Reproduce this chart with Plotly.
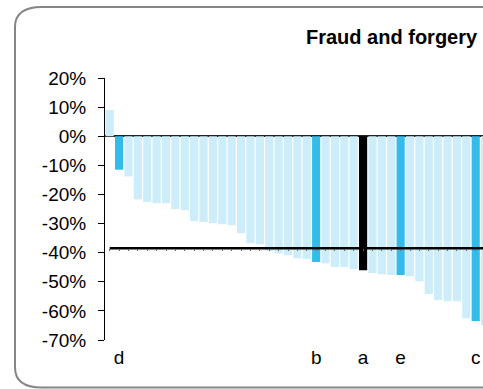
import plotly.graph_objects as go

# Percentage change by area, sorted from largest rise to largest fall
values = [9.0, -11.5, -13.8, -21.7, -22.6, -23.0, -23.0, -25.0, -25.4, -29.1,
          -29.5, -29.8, -30.2, -30.6, -33.3, -36.8, -37.1, -39.5, -40.2, -40.9,
          -41.9, -42.2, -43.2, -43.6, -44.9, -44.9, -45.6, -46.0, -47.0, -47.4,
          -47.7, -47.7, -48.1, -49.8, -54.2, -56.3, -56.7, -56.7, -62.5, -63.5,
          -64.9]
# Named areas and where they fall in the sorted order
label_names = ["d", "b", "a", "e", "c"]
label_index = [1, 22, 27, 31, 39]
selected = "a"
average = -38.5
title_text = "Fraud and forgery"
y_ticks = [20, 10, 0, -10, -20, -30, -40, -50, -60, -70]

LIGHT = "#CCEDF9"
HIGHLIGHT = "#33BBEA"
SELECT = "#000000"
FONT = "Liberation Sans, Arial, sans-serif"

W, H = 483, 389
L, T, B, R = 105, 78, 49, 0
pw, ph = W - L - R, H - T - B
y_min, y_max = min(y_ticks), max(y_ticks)
n = len(values)
x_range = [-0.5, -0.5 + pw / 9.385]

colors = [LIGHT] * n
for name, idx in zip(label_names, label_index):
    colors[idx] = SELECT if name == selected else HIGHLIGHT

x = list(range(n))

fig = go.Figure()
fig.add_trace(go.Bar(x=x, y=values, marker=dict(color=colors, line=dict(width=0)),
                     xaxis="x", yaxis="y", hoverinfo="skip"))
fig.add_trace(go.Scatter(x=[x[0], x[-1]], y=[average, average], mode="lines",
                         line=dict(color="#000000", width=2.5),
                         xaxis="x2", yaxis="y", hoverinfo="skip"))


def px(xp):
    return (xp - L) / pw


def py(yp):
    return (H - B - yp) / ph


# Rounded chart frame (its right side runs past the visible area)
fl, ft, fb, fr = 15, 7, 387.5, 700
rx, ry = 27, 20
frame = (f"M {px(fl + rx)},{py(ft)} L {px(fr)},{py(ft)} L {px(fr)},{py(fb)} "
         f"L {px(fl + rx)},{py(fb)} Q {px(fl)},{py(fb)} {px(fl)},{py(fb - ry)} "
         f"L {px(fl)},{py(ft + ry)} Q {px(fl)},{py(ft)} {px(fl + rx)},{py(ft)} Z")

fig.update_layout(
    width=W, height=H,
    margin=dict(l=L, r=R, t=T, b=B, autoexpand=False),
    paper_bgcolor="white", plot_bgcolor="white",
    showlegend=False,
    bargap=0.13,
    font=dict(family=FONT, color="black", size=19),
    title=dict(text=f"<b>{title_text}</b>", x=306 / W, xanchor="left",
               y=1 - 37 / H, yanchor="middle", xref="container", yref="container",
               font=dict(family=FONT, size=20, color="black")),
    xaxis=dict(range=x_range, anchor="free",
               position=(average - y_min) / (y_max - y_min),
               showline=False, showgrid=False, zeroline=False,
               tickmode="array", tickvals=x, ticks="outside", ticklen=2,
               tickwidth=1, tickcolor="#666", showticklabels=False),
    xaxis2=dict(range=x_range, overlaying="x", anchor="y", side="bottom",
                showline=False, showgrid=False, zeroline=False,
                tickmode="array", tickvals=label_index, ticktext=label_names,
                ticks="", ticklabelstandoff=4,
                tickfont=dict(family=FONT, size=19, color="black")),
    yaxis=dict(range=[y_min, y_max], tickmode="array", tickvals=y_ticks,
               ticktext=[f"{v}%" for v in y_ticks],
               showline=True, linecolor="black", linewidth=1,
               ticks="outside", ticklen=6, tickcolor="black", tickwidth=1,
               showgrid=False, zeroline=True, zerolinecolor="#222",
               zerolinewidth=1.5, ticklabelstandoff=8,
               tickfont=dict(family=FONT, size=19, color="black")),
    shapes=[dict(type="path", path=frame, xref="paper", yref="paper",
                 line=dict(color="#858585", width=2), fillcolor="rgba(0,0,0,0)",
                 layer="above")],
)

fig.write_html("out.html")
